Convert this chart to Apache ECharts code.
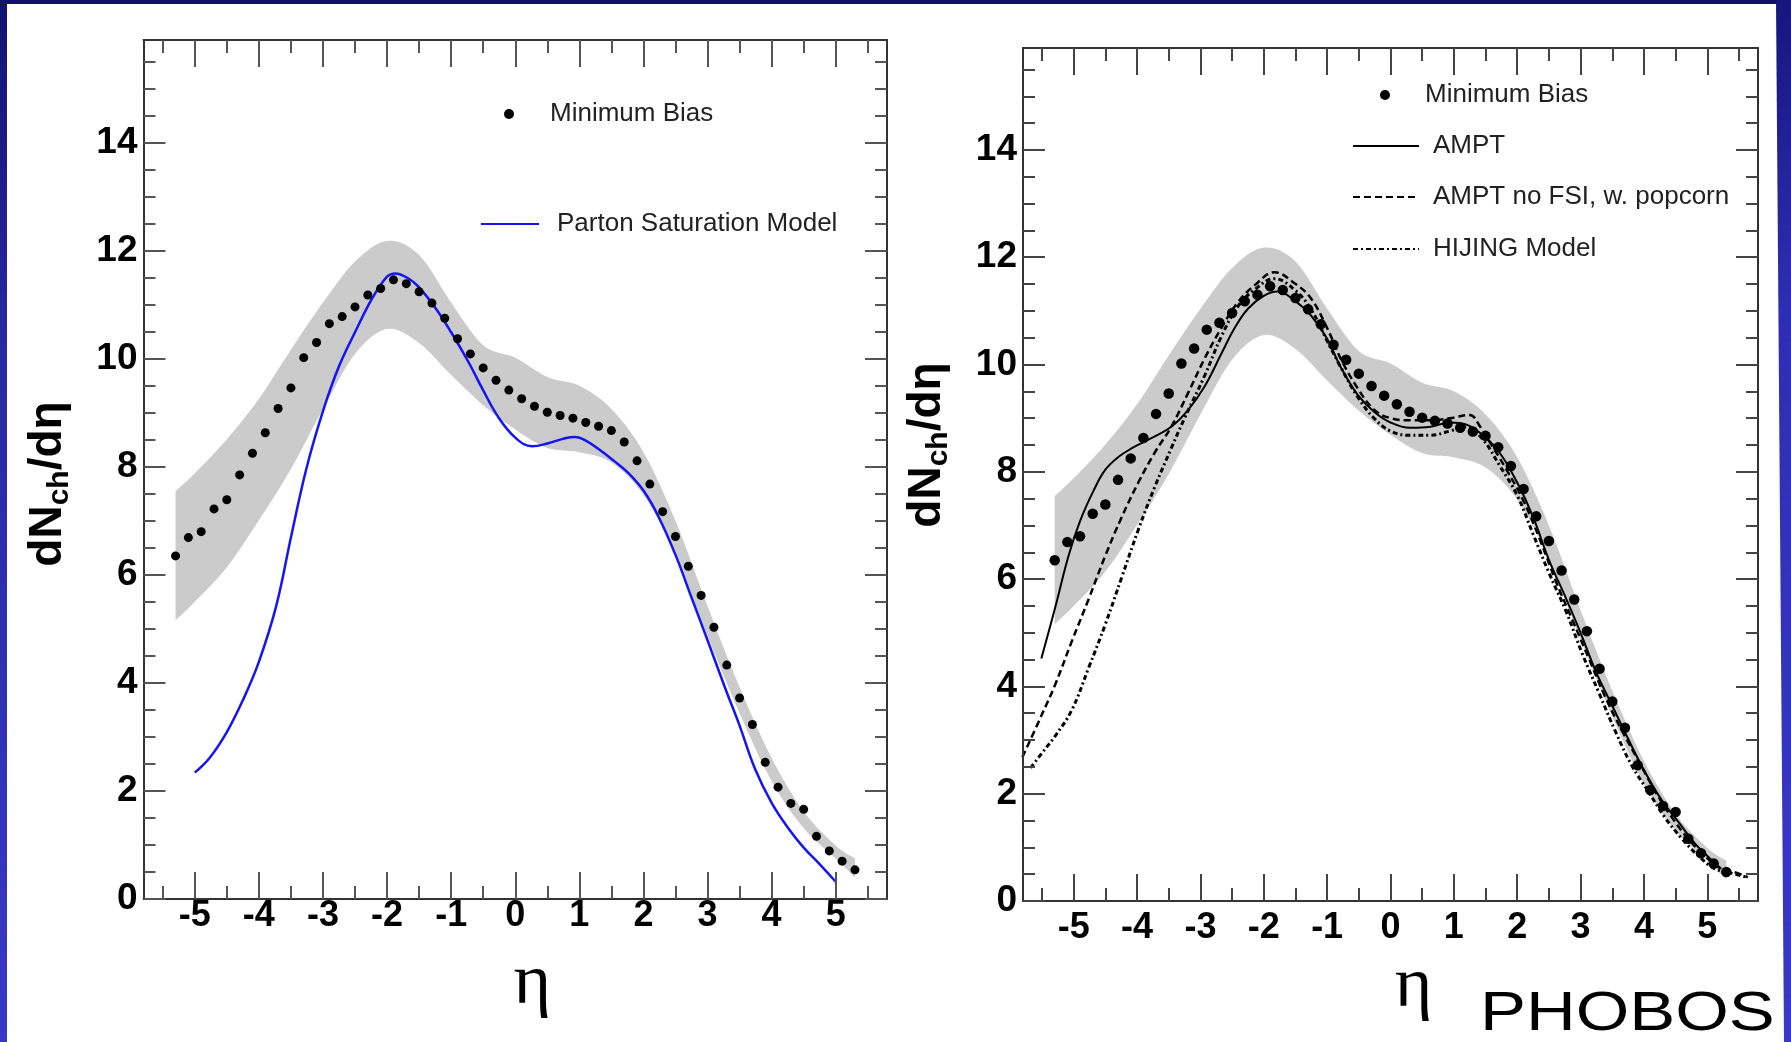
<!DOCTYPE html>
<html><head><meta charset="utf-8">
<script src="https://cdn.jsdelivr.net/npm/echarts@6/dist/echarts.min.js"></script>
<style>html,body{margin:0;padding:0;background:#fff}#c{width:1791px;height:1042px}</style>
</head><body><div id="c"></div>
<script>
// ---------------- data ----------------
const etaMajor = [-5,-4,-3,-2,-1,0,1,2,3,4,5];
const etaMinor = [-5.5,-4.5,-3.5,-2.5,-1.5,-0.5,0.5,1.5,2.5,3.5,4.5,5.5];
const yMajor = [0,2,4,6,8,10,12,14];
const yMinor = [0.5,1,1.5,2.5,3,3.5,4.5,5,5.5,6.5,7,7.5,8.5,9,9.5,10.5,11,11.5,12.5,13,13.5,14.5,15,15.5];

// Minimum Bias data points
const mbEta = [-5.3,-5.1,-4.9,-4.7,-4.5,-4.3,-4.1,-3.9,-3.7,-3.5,-3.3,-3.1,-2.9,-2.7,-2.5,-2.3,-2.1,-1.9,-1.7,-1.5,-1.3,-1.1,-0.9,-0.7,-0.5,-0.3,-0.1,
               0.1,0.3,0.5,0.7,0.9,1.1,1.3,1.5,1.7,1.9,2.1,2.3,2.5,2.7,2.9,3.1,3.3,3.5,3.7,3.9,4.1,4.3,4.5,4.7,4.9,5.1,5.3];
const mbVal = [6.35,6.69,6.80,7.22,7.39,7.85,8.25,8.63,9.08,9.46,10.02,10.30,10.65,10.78,10.96,11.18,11.30,11.46,11.39,11.24,11.03,10.75,10.37,10.09,9.83,9.60,9.42,
               9.26,9.12,9.01,8.95,8.90,8.82,8.75,8.67,8.46,8.11,7.68,7.17,6.71,6.16,5.62,5.03,4.33,3.72,3.23,2.53,2.07,1.77,1.66,1.16,0.89,0.70,0.54];

// systematic error band
const bandEta  = [-5.3,-5,-4.5,-4,-3.5,-3,-2.5,-2,-1.5,-1,-0.5,0,0.5,1,1.5,2,2.5,3,3.5,4,4.5,5,5.3];
const bandHigh = [7.55,7.88,8.51,9.26,10.17,11.04,11.80,12.18,11.92,11.04,10.25,10.02,9.66,9.50,9.07,8.27,7.00,5.42,3.92,2.61,1.62,0.99,0.75];
const bandLow  = [5.16,5.50,6.14,7.01,7.96,9.07,10.09,10.55,10.29,9.70,9.14,8.69,8.35,8.27,8.08,7.48,6.37,4.87,3.44,2.18,1.31,0.75,0.40];

// Parton Saturation Model
const psmEta = [-5.0,-4.77,-4.5,-4.25,-4.0,-3.73,-3.5,-3.26,-3.0,-2.75,-2.5,-2.23,-2.0,-1.87,-1.66,-1.5,-1.24,-1.0,-0.73,-0.52,-0.26,0,0.26,0.5,0.78,0.94,1.08,1.3,1.55,1.77,2.0,2.23,2.5,2.75,3.0,3.27,3.5,3.74,4.0,4.26,4.5,4.73,5.0];
const psmVal = [2.34,2.61,3.09,3.68,4.39,5.42,6.69,7.96,9.03,9.86,10.49,11.12,11.52,11.58,11.48,11.32,10.93,10.49,9.94,9.46,8.91,8.54,8.38,8.43,8.53,8.55,8.50,8.33,8.10,7.88,7.56,7.09,6.37,5.58,4.79,3.92,3.21,2.41,1.78,1.31,0.95,0.67,0.32];

// AMPT
const amptEta = [-5.51,-5.29,-5.08,-4.9,-4.69,-4.5,-4.29,-4.08,-3.82,-3.46,-3.19,-2.93,-2.67,-2.46,-2.25,-2.0,-1.78,-1.52,-1.26,-1.0,-0.79,-0.52,-0.26,0,0.31,0.63,0.94,1.2,1.46,1.72,2.0,2.25,2.5,2.77,3.0,3.24,3.5,3.76,4.0,4.28,4.54,4.8,5.0,5.22];
const amptVal = [4.52,5.48,6.44,7.08,7.64,8.04,8.28,8.44,8.6,8.84,9.16,9.6,10.2,10.68,11.04,11.28,11.36,11.2,10.92,10.48,9.96,9.44,9.12,8.92,8.82,8.84,8.92,8.88,8.68,8.36,7.8,7.16,6.36,5.64,5.0,4.28,3.64,3.0,2.44,1.88,1.48,1.08,0.84,0.6];

// AMPT no FSI, w. popcorn
const nofsiEta = [-5.81,-5.5,-5.29,-5.03,-4.76,-4.5,-4.24,-3.98,-3.72,-3.46,-3.19,-2.93,-2.67,-2.41,-2.14,-1.83,-1.52,-1.26,-1.0,-0.79,-0.52,-0.26,0,0.31,0.63,0.94,1.25,1.41,1.57,1.83,2.09,2.35,2.61,2.87,3.13,3.39,3.66,3.92,4.18,4.44,4.7,4.96,5.22,5.48,5.64];
const nofsiVal = [2.68,3.48,4.04,4.84,5.64,6.44,7.16,7.8,8.36,8.84,9.48,10.12,10.68,11.16,11.48,11.72,11.52,11.24,10.68,10.12,9.56,9.16,9.0,8.96,8.96,9.0,9.06,8.85,8.55,8.04,7.48,6.76,5.96,5.24,4.52,3.8,3.16,2.6,2.04,1.56,1.16,0.84,0.6,0.52,0.44];

// HIJING Model
const hijEta = [-5.68,-5.5,-5.29,-5.03,-4.76,-4.5,-4.24,-3.98,-3.72,-3.46,-3.25,-2.93,-2.67,-2.41,-2.14,-1.83,-1.52,-1.26,-1.0,-0.79,-0.52,-0.26,0,0.31,0.63,0.94,1.2,1.46,1.72,2.0,2.25,2.5,2.77,3.03,3.29,3.55,3.81,4.07,4.33,4.6,4.86,5.12,5.38,5.64];
const hijVal = [2.48,2.76,3.08,3.56,4.36,5.16,6.04,6.92,7.72,8.44,9.0,9.8,10.52,11.08,11.4,11.6,11.4,11.04,10.44,9.96,9.4,9.0,8.76,8.68,8.68,8.76,8.84,8.6,8.12,7.56,6.84,6.12,5.4,4.6,3.88,3.16,2.52,2.04,1.56,1.16,0.84,0.6,0.52,0.44];

// ---------------- helpers ----------------
const pairs = (xs, ys) => xs.map((x, i) => [x, ys[i]]);
const SANS = 'Liberation Sans, Arial, Helvetica, sans-serif';
const frameColor = '#333';

// Catmull-Rom smoothing of pixel points (sampled), used for the band outline
function smoothPts(pts) {
  const out = [pts[0]];
  for (let i = 0; i < pts.length - 1; i++) {
    const p0 = pts[i - 1] || pts[i], p1 = pts[i], p2 = pts[i + 1], p3 = pts[i + 2] || pts[i + 1];
    const c1 = [p1[0] + (p2[0] - p0[0]) / 6, p1[1] + (p2[1] - p0[1]) / 6];
    const c2 = [p2[0] - (p3[0] - p1[0]) / 6, p2[1] - (p3[1] - p1[1]) / 6];
    for (let k = 1; k <= 10; k++) {
      const t = k / 10, u = 1 - t;
      out.push([
        u*u*u*p1[0] + 3*u*u*t*c1[0] + 3*u*t*t*c2[0] + t*t*t*p2[0],
        u*u*u*p1[1] + 3*u*u*t*c1[1] + 3*u*t*t*c2[1] + t*t*t*p2[1]
      ]);
    }
  }
  return out;
}
function bandSeries(ax) {
  return {
    type: 'custom', xAxisIndex: ax, yAxisIndex: ax, silent: true, z: 1,
    data: [[bandEta[0], bandLow[0]]],
    renderItem: function (params, api) {
      const up = smoothPts(bandEta.map((x, i) => api.coord([x, bandHigh[i]])));
      const lo = smoothPts(bandEta.map((x, i) => api.coord([x, bandLow[i]]))).reverse();
      return {type: 'polygon', shape: {points: up.concat(lo)}, style: {fill: '#cbcbcb'}};
    }
  };
}

function xAxes(grid, labelMargin, nameGap, namePad, tickColor) {
  const base = {gridIndex: grid, type: 'value', min: -5.8, max: 5.8, splitLine: {show: false}, z: 5};
  const tl = {color: tickColor, width: 2};
  return [
    Object.assign({}, base, {position: 'bottom',
      axisLine: {show: true, onZero: false, lineStyle: {color: frameColor, width: 2}},
      axisTick: {show: true, inside: true, length: 27, customValues: etaMajor, lineStyle: tl},
      axisLabel: {show: true, customValues: etaMajor, margin: labelMargin, fontSize: 36, fontWeight: 'bold', color: '#000', fontFamily: SANS},
      name: 'η', nameLocation: 'middle', nameGap: nameGap,
      nameTextStyle: {fontFamily: 'Liberation Serif, Times New Roman, serif', fontSize: 72, color: '#000', padding: [0, 0, 0, namePad]}}),
    Object.assign({}, base, {position: 'bottom',
      axisLine: {show: false, onZero: false},
      axisTick: {show: true, inside: true, length: 13, customValues: etaMinor, lineStyle: tl},
      axisLabel: {show: false}}),
    Object.assign({}, base, {position: 'top',
      axisLine: {show: true, onZero: false, lineStyle: {color: frameColor, width: 2}},
      axisTick: {show: true, inside: true, length: 27, customValues: etaMajor, lineStyle: tl},
      axisLabel: {show: false}}),
    Object.assign({}, base, {position: 'top',
      axisLine: {show: false, onZero: false},
      axisTick: {show: true, inside: true, length: 13, customValues: etaMinor, lineStyle: tl},
      axisLabel: {show: false}})
  ];
}
function yAxes(grid, tickColor) {
  const base = {gridIndex: grid, type: 'value', min: 0, max: 15.9, splitLine: {show: false}, z: 5};
  const tl = {color: tickColor, width: 2};
  return [
    Object.assign({}, base, {position: 'left',
      axisLine: {show: true, onZero: false, lineStyle: {color: frameColor, width: 2}},
      axisTick: {show: true, inside: true, length: 22, customValues: yMajor, lineStyle: tl},
      axisLabel: {show: true, customValues: yMajor, margin: 6, fontSize: 37, fontWeight: 'bold', color: '#000', fontFamily: SANS}}),
    Object.assign({}, base, {position: 'left',
      axisLine: {show: false, onZero: false},
      axisTick: {show: true, inside: true, length: 12, customValues: yMinor, lineStyle: tl},
      axisLabel: {show: false}}),
    Object.assign({}, base, {position: 'right',
      axisLine: {show: true, onZero: false, lineStyle: {color: frameColor, width: 2}},
      axisTick: {show: true, inside: true, length: 22, customValues: yMajor, lineStyle: tl},
      axisLabel: {show: false}}),
    Object.assign({}, base, {position: 'right',
      axisLine: {show: false, onZero: false},
      axisTick: {show: true, inside: true, length: 12, customValues: yMinor, lineStyle: tl},
      axisLabel: {show: false}})
  ];
}
function legendItem(name, left, top, width, pad, isLine) {
  const item = {name: name};
  if (isLine) item.itemStyle = {opacity: 0};
  return {data: [item], left: left, top: top, orient: 'horizontal', padding: 0,
    itemWidth: width, itemHeight: isLine ? 9 : 10, selectedMode: false,
    textStyle: {fontSize: 26, color: '#222', fontFamily: SANS, padding: [0, 0, 0, pad]}};
}

const chart = echarts.init(document.getElementById('c'), null, {renderer: 'canvas'});
const option = {
  animation: false,
  backgroundColor: '#ffffff',
  grid: [
    {left: 143.5, top: 40, width: 743.5, height: 859},
    {left: 1023, top: 48, width: 735, height: 853}
  ],
  xAxis: xAxes(0, -1, 49, 34, '#555').concat(xAxes(1, 9, 44, 46, '#444')),
  yAxis: yAxes(0, '#555').concat(yAxes(1, '#444')),
  legend: [
    legendItem('Minimum Bias', 504, 101, 58, 7, false),
    legendItem('Parton Saturation Model', 480, 211, 58, 13, true),
    legendItem('Minimum Bias', 1380, 82, 66, 2, false),
    legendItem('AMPT', 1352, 133, 66, 9, true),
    legendItem('AMPT no FSI, w. popcorn', 1352, 184, 66, 9, true),
    legendItem('HIJING Model', 1352, 236, 66, 9, true)
  ],
  series: [
    bandSeries(0),
    {type: 'line', name: 'Parton Saturation Model', xAxisIndex: 0, yAxisIndex: 0,
     data: pairs(psmEta, psmVal), symbol: 'none', smooth: 0.4,
     lineStyle: {color: '#1414f5', width: 2.5}, itemStyle: {color: '#1414f5'}, z: 3},
    {type: 'scatter', name: 'Minimum Bias', xAxisIndex: 0, yAxisIndex: 0,
     data: pairs(mbEta, mbVal), symbol: 'circle', symbolSize: 9,
     itemStyle: {color: '#000', opacity: 1}, z: 4},
    bandSeries(4),
    {type: 'line', name: 'AMPT', xAxisIndex: 4, yAxisIndex: 4,
     data: pairs(amptEta, amptVal), symbol: 'none', smooth: 0.4,
     lineStyle: {color: '#000', width: 2}, itemStyle: {color: '#000'}, z: 3},
    {type: 'line', name: 'AMPT no FSI, w. popcorn', xAxisIndex: 4, yAxisIndex: 4,
     data: pairs(nofsiEta, nofsiVal), symbol: 'none', smooth: 0.4,
     lineStyle: {color: '#000', width: 2.5, type: [7, 4]}, itemStyle: {color: '#000'}, z: 3},
    {type: 'line', name: 'HIJING Model', xAxisIndex: 4, yAxisIndex: 4,
     data: pairs(hijEta, hijVal), symbol: 'none', smooth: 0.4,
     lineStyle: {color: '#000', width: 3, type: [5, 3, 2, 3]}, itemStyle: {color: '#000'}, z: 3},
    {type: 'scatter', name: 'Minimum Bias', xAxisIndex: 4, yAxisIndex: 4,
     data: pairs(mbEta, mbVal), symbol: 'circle', symbolSize: 10.5,
     itemStyle: {color: '#000', opacity: 1}, z: 4}
  ],
  graphic: [
    {type: 'rect', shape: {x: 0, y: 0, width: 1791, height: 4}, style: {fill: '#10106c'}, silent: true},
    {type: 'rect', shape: {x: 0, y: 0, width: 7, height: 1042}, silent: true,
     style: {fill: new echarts.graphic.LinearGradient(0, 0, 0, 1, [
       {offset: 0, color: '#121272'}, {offset: 0.35, color: '#2a2aa6'}, {offset: 1, color: '#3838c6'}])}},
    {type: 'polygon', shape: {points: [[1776, 0], [1791, 0], [1791, 1042], [1784, 1042]]}, silent: true,
     style: {fill: new echarts.graphic.LinearGradient(0, 0, 0, 1, [
       {offset: 0, color: '#16167e'}, {offset: 0.3, color: '#2e2eb4'}, {offset: 1, color: '#3838c8'}])}},
    {type: 'text', x: 48, y: 484, rotation: Math.PI / 2, silent: true,
     style: {text: '{a|dN}{b|ch}{a|/dη}', align: 'center', verticalAlign: 'middle', fill: '#000',
       rich: {a: {fontSize: 46, fontWeight: 'bold', fontFamily: SANS, lineHeight: 54, fill: '#000'},
              b: {fontSize: 30, fontWeight: 'bold', fontFamily: SANS, lineHeight: 30, verticalAlign: 'bottom', fill: '#000'}}}},
    {type: 'text', x: 927, y: 445, rotation: Math.PI / 2, silent: true,
     style: {text: '{a|dN}{b|ch}{a|/dη}', align: 'center', verticalAlign: 'middle', fill: '#000',
       rich: {a: {fontSize: 46, fontWeight: 'bold', fontFamily: SANS, lineHeight: 54, fill: '#000'},
              b: {fontSize: 30, fontWeight: 'bold', fontFamily: SANS, lineHeight: 30, verticalAlign: 'bottom', fill: '#000'}}}},
    {type: 'text', x: 1480, y: 1015, scaleX: 1.23, silent: true,
     style: {text: 'PHOBOS', fontSize: 56, fontFamily: SANS, fill: '#000', align: 'left', verticalAlign: 'middle'}}
  ]
};
chart.setOption(option);
</script></body></html>
